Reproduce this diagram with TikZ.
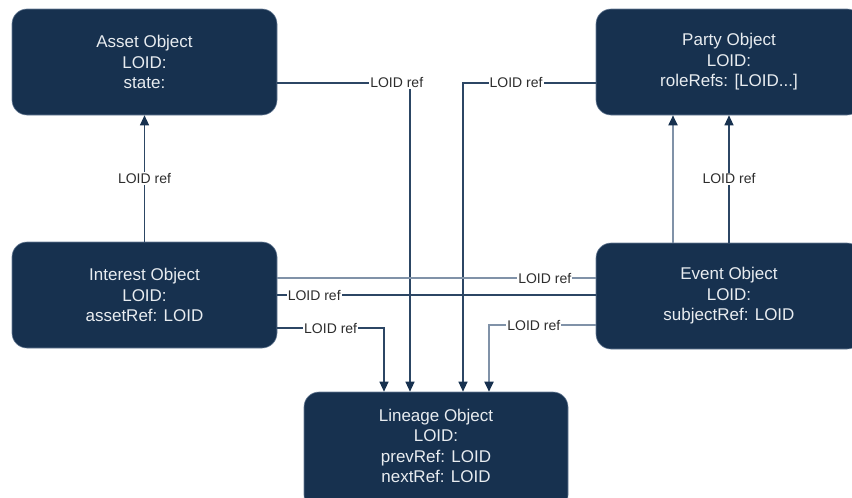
\documentclass[tikz,border=0pt]{standalone}
\usepackage{fontspec}
\setmainfont{Liberation Sans}
\usetikzlibrary{arrows.meta}

\definecolor{navy}{RGB}{23,49,79}
\definecolor{navyedge}{RGB}{105,125,150}
\definecolor{boxtext}{RGB}{232,236,240}
\definecolor{linkdark}{RGB}{44,70,100}
\definecolor{linklight}{RGB}{128,146,168}
\definecolor{lbltext}{RGB}{45,45,45}

\tikzset{
  objbox/.style={draw=navyedge, line width=0.6pt, fill=navy, rounded corners=15pt,
    minimum width=265pt, minimum height=106pt, inner sep=0pt,
    text=boxtext, align=center,
    font=\fontsize{17pt}{20.5pt}\selectfont},
  link/.style={draw=linkdark, line width=1.2pt},
  linklt/.style={draw=linklight, line width=1.8pt},
  tip/.style={-{Triangle[width=9pt,length=10pt,color=navy]}},
  lbl/.style={fill=white, inner sep=1pt, text=lbltext,
    font=\fontsize{14pt}{16pt}\selectfont},
}

\begin{document}
\begin{tikzpicture}[x=1pt, y=-1pt]
  \useasboundingbox (0,0) rectangle (852,498);
  \clip (0,0) rectangle (852,498);

  % object boxes
  \node[objbox] (asset)    at (144.5,62)  {Asset Object\\LOID:\\state:};
  \node[objbox, minimum width=266pt] (party)  at (729,62)  {Party Object\\LOID:\\roleRefs: [LOID...]};
  \node[objbox] (interest) at (144.5,295) {Interest Object\\LOID:\\assetRef: LOID};
  \node[objbox, minimum width=266pt] (event)  at (729,296) {Event Object\\LOID:\\subjectRef: LOID};
  % the lineage box runs past the lower edge, its text sits a little high
  \node[objbox, minimum width=264pt, minimum height=118pt] (lineage) at (436,451)
    {\raisebox{3pt}[\height][\depth]{\begin{tabular}{@{}c@{}}Lineage Object\\LOID:\\prevRef: LOID\\nextRef: LOID\end{tabular}}};

  % references between the objects
  \draw[link, tip] (interest.north) -- node[lbl, pos=0.5] (l3) {LOID ref} (asset.south);

  \draw[linklt, tip] ([xshift=-56pt]event.north) -- ([xshift=-56pt]party.south);
  \draw[link, tip] (event.north) -- node[lbl, pos=0.5] (l4) {LOID ref} (party.south);

  \draw[link, tip] ([yshift=-21pt]asset.east) -| node[lbl, pos=0.45] (l1) {LOID ref} ([xshift=-26pt]lineage.north);
  \draw[link, tip] ([yshift=-21pt]party.west) -| node[lbl, pos=0.3] (l2) {LOID ref} ([xshift=27pt]lineage.north);

  \draw[linklt] ([yshift=17pt]interest.east) -- node[lbl, pos=0.84] (l5) {LOID ref} ([yshift=18pt]event.west);
  \draw[link] (interest.east) -- node[lbl, pos=0.116] (l6) {LOID ref} ([yshift=1pt]event.west);

  \draw[link, tip] ([yshift=-33pt]interest.east) -| node[lbl, pos=0.25] (l7) {LOID ref} ([xshift=-52pt]lineage.north);
  \draw[linklt, tip] ([yshift=-29pt]event.west) -| node[lbl, pos=0.29] (l8) {LOID ref} ([xshift=53pt]lineage.north);
\end{tikzpicture}
\end{document}
